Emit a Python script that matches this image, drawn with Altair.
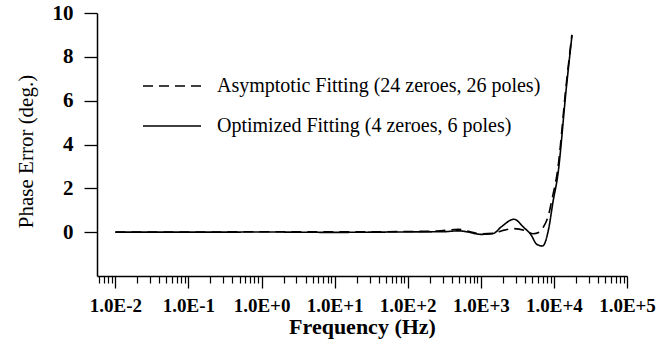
import altair as alt
import pandas as pd

# ---- data ----
series_names = [
    "Asymptotic Fitting (24 zeroes, 26 poles)",
    "Optimized Fitting (4 zeroes, 6 poles)",
]

freq_asym = [0.01, 0.03, 0.1, 0.3, 1, 3, 10, 30, 100, 250, 490, 700, 1000,
             1500, 2000, 2800, 4000, 5200, 6300, 7080, 8300, 9550, 11200,
             14600, 17600]
phase_asym = [0.0, 0.0, 0.0, 0.01, 0.02, 0.02, 0.02, 0.02, 0.03, 0.05, 0.13,
              0.03, -0.08, -0.05, 0.08, 0.16, 0.08, -0.07, 0.0, 0.2, 0.7,
              1.6, 2.8, 6.6, 9.0]

freq_opt = [0.01, 0.03, 0.1, 0.3, 1, 3, 10, 30, 100, 300, 500, 660, 1000,
            1480, 1900, 2850, 3800, 4900, 5800, 7000, 8500, 9700, 11300,
            14800, 17700]
phase_opt = [0.0, 0.0, 0.0, 0.0, 0.01, 0.0, -0.01, 0.0, 0.01, 0.02, 0.06,
             0.01, -0.1, -0.06, 0.24, 0.59, 0.24, -0.14, -0.55, -0.63, 0.18,
             1.37, 2.6, 6.6, 9.0]

x_major_ticks = [0.01, 0.1, 1, 10, 100, 1000, 10000, 100000]
x_tick_labels = ["1.0E-2", "1.0E-1", "1.0E+0", "1.0E+1", "1.0E+2",
                 "1.0E+3", "1.0E+4", "1.0E+5"]
y_ticks = [0, 2, 4, 6, 8, 10]

x_domain = [0.0056, 100000]
y_domain = [-2, 10]

# ---- build table ----
df = pd.concat([
    pd.DataFrame({"freq": freq_asym, "phase": phase_asym, "series": series_names[0]}),
    pd.DataFrame({"freq": freq_opt, "phase": phase_opt, "series": series_names[1]}),
], ignore_index=True)

minor_ticks = [k * 10.0 ** d for d in range(-3, 5) for k in range(2, 10)
               if x_domain[0] <= k * 10.0 ** d <= x_domain[1]]

label_expr = " : ".join(
    f"datum.value == {v} ? '{l}'" for v, l in zip(x_major_ticks, x_tick_labels)
) + " : ''"

FONT = "Liberation Serif"
x_scale = alt.Scale(type="log", domain=x_domain)
y_scale = alt.Scale(domain=y_domain)

base = alt.Chart(df)

lines = base.mark_line(
    color="black", strokeWidth=1.6, interpolate="monotone", clip=True
).encode(
    x=alt.X(
        "freq:Q",
        scale=x_scale,
        axis=alt.Axis(
            orient="bottom",
            values=x_major_ticks,
            labelExpr=label_expr,
            labelFlush=False,
            labelOverlap=False,
            labelFont=FONT,
            labelFontSize=19,
            labelFontWeight="bold",
            labelColor="black",
            labelPadding=8,
            tickSize=12,
            tickColor="black",
            tickWidth=1.3,
            domainColor="black",
            domainWidth=1.5,
            grid=False,
            title="Frequency (Hz)",
            titleFont=FONT,
            titleFontSize=22,
            titleFontWeight="bold",
            titleColor="black",
            titleY=40,
        ),
    ),
    y=alt.Y(
        "phase:Q",
        scale=y_scale,
        axis=alt.Axis(
            orient="left",
            values=y_ticks,
            labelFont=FONT,
            labelFontSize=21,
            labelFontWeight="bold",
            labelColor="black",
            labelPadding=11,
            tickSize=13,
            tickColor="black",
            tickWidth=1.3,
            domainColor="black",
            domainWidth=1.5,
            grid=False,
            title="Phase Error (deg.)",
            titleFont=FONT,
            titleFontSize=21,
            titleFontWeight="normal",
            titleColor="black",
            titleX=-71,
            titleY=138,
            titleBaseline="middle",
        ),
    ),
    strokeDash=alt.StrokeDash(
        "series:N",
        scale=alt.Scale(domain=series_names, range=[[10, 6], [1, 0]]),
        legend=alt.Legend(
            title=None,
            orient="none",
            legendX=45,
            legendY=43,
            symbolType="stroke",
            symbolSize=3364,
            symbolStrokeWidth=1.6,
            symbolStrokeColor="black",
            labelFont=FONT,
            labelFontSize=20,
            labelColor="black",
            labelOffset=15,
            labelLimit=0,
            rowPadding=-24,
            padding=0,
        ),
    ),
)

# invisible layer carrying the minor ticks of the log axis
minor = base.mark_point(opacity=0).encode(
    x=alt.X(
        "freq:Q",
        scale=x_scale,
        axis=alt.Axis(
            orient="bottom",
            values=minor_ticks,
            labels=False,
            domain=False,
            grid=False,
            tickSize=7,
            tickColor="black",
            tickWidth=1.2,
            title=None,
        ),
    ),
    y=alt.Y("phase:Q", scale=y_scale, axis=None),
)

chart = alt.layer(lines, minor).resolve_axis(
    x="independent", y="independent"
).properties(
    width=530,
    height=263,
    autosize=alt.AutoSizeParams(type="none"),
    padding={"left": 97, "top": 13, "right": 45, "bottom": 73},
).configure_view(stroke=None)

chart.save("out.html", embed_options={"renderer": "svg", "actions": False})
